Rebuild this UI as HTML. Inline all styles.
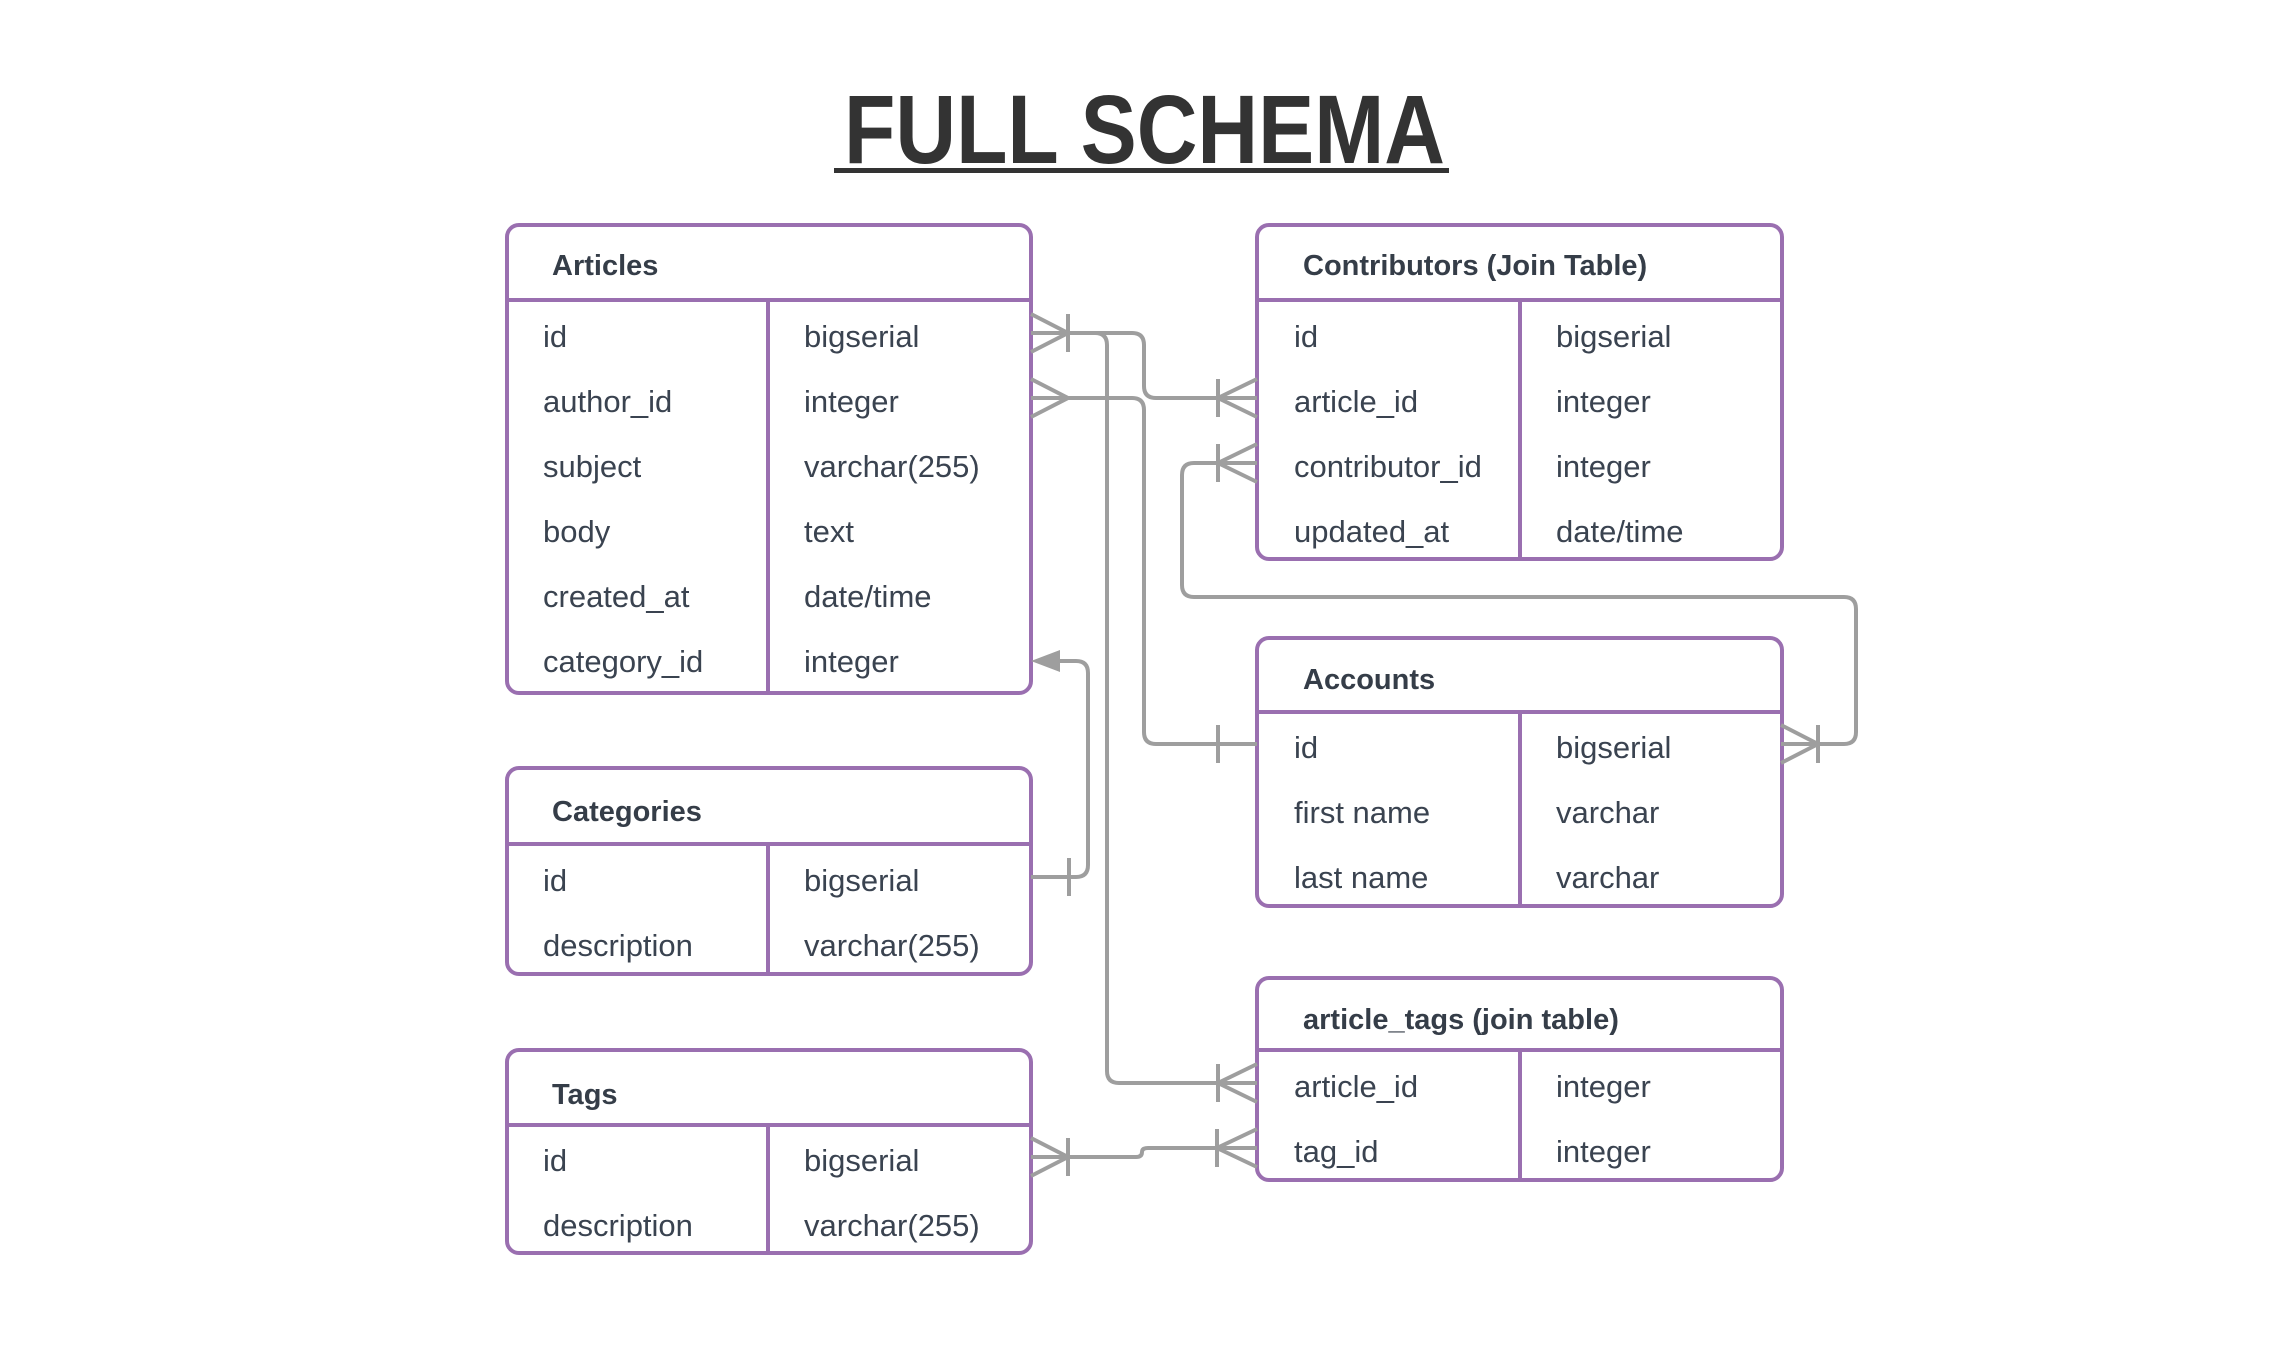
<!DOCTYPE html>
<html><head><meta charset="utf-8"><style>
html,body{margin:0;padding:0;background:#fff;}
svg{display:block;}
.h{font-family:"Liberation Sans",sans-serif;font-weight:bold;font-size:29px;fill:#353d48;}
.t{font-family:"Liberation Sans",sans-serif;font-size:31px;fill:#3a4350;}
.box{fill:none;stroke:#9a6fb0;stroke-width:4;}
.ln{fill:none;stroke:#9e9e9e;stroke-width:4;}
</style></head><body>
<svg width="2280" height="1350" viewBox="0 0 2280 1350" xmlns="http://www.w3.org/2000/svg">
<text x="844" y="163" textLength="601" lengthAdjust="spacingAndGlyphs" style="font-family:'Liberation Sans',sans-serif;font-weight:bold;font-size:97px;fill:#333;">FULL SCHEMA</text>
<rect x="834" y="168" width="615" height="5" fill="#333"/>

<!-- Articles -->
<rect class="box" x="507" y="225" width="524" height="468" rx="12"/>
<line class="box" x1="507" y1="300" x2="1031" y2="300"/>
<line class="box" x1="768" y1="300" x2="768" y2="693"/>
<text class="h" x="552" y="275">Articles</text>
<g class="t">
<text x="543" y="347">id</text><text x="804" y="347">bigserial</text>
<text x="543" y="412">author_id</text><text x="804" y="412">integer</text>
<text x="543" y="477">subject</text><text x="804" y="477">varchar(255)</text>
<text x="543" y="542">body</text><text x="804" y="542">text</text>
<text x="543" y="607">created_at</text><text x="804" y="607">date/time</text>
<text x="543" y="672">category_id</text><text x="804" y="672">integer</text>
</g>

<!-- Categories -->
<rect class="box" x="507" y="768" width="524" height="206" rx="12"/>
<line class="box" x1="507" y1="844" x2="1031" y2="844"/>
<line class="box" x1="768" y1="844" x2="768" y2="974"/>
<text class="h" x="552" y="821">Categories</text>
<g class="t">
<text x="543" y="891">id</text><text x="804" y="891">bigserial</text>
<text x="543" y="956">description</text><text x="804" y="956">varchar(255)</text>
</g>

<!-- Tags -->
<rect class="box" x="507" y="1050" width="524" height="203" rx="12"/>
<line class="box" x1="507" y1="1125" x2="1031" y2="1125"/>
<line class="box" x1="768" y1="1125" x2="768" y2="1253"/>
<text class="h" x="552" y="1104">Tags</text>
<g class="t">
<text x="543" y="1171">id</text><text x="804" y="1171">bigserial</text>
<text x="543" y="1236">description</text><text x="804" y="1236">varchar(255)</text>
</g>

<!-- Contributors -->
<rect class="box" x="1257" y="225" width="525" height="334" rx="12"/>
<line class="box" x1="1257" y1="300" x2="1782" y2="300"/>
<line class="box" x1="1520" y1="300" x2="1520" y2="559"/>
<text class="h" x="1303" y="275">Contributors (Join Table)</text>
<g class="t">
<text x="1294" y="347">id</text><text x="1556" y="347">bigserial</text>
<text x="1294" y="412">article_id</text><text x="1556" y="412">integer</text>
<text x="1294" y="477">contributor_id</text><text x="1556" y="477">integer</text>
<text x="1294" y="542">updated_at</text><text x="1556" y="542">date/time</text>
</g>

<!-- Accounts -->
<rect class="box" x="1257" y="638" width="525" height="268" rx="12"/>
<line class="box" x1="1257" y1="712" x2="1782" y2="712"/>
<line class="box" x1="1520" y1="712" x2="1520" y2="906"/>
<text class="h" x="1303" y="689">Accounts</text>
<g class="t">
<text x="1294" y="758">id</text><text x="1556" y="758">bigserial</text>
<text x="1294" y="823">first name</text><text x="1556" y="823">varchar</text>
<text x="1294" y="888">last name</text><text x="1556" y="888">varchar</text>
</g>

<!-- article_tags -->
<rect class="box" x="1257" y="978" width="525" height="202" rx="12"/>
<line class="box" x1="1257" y1="1050" x2="1782" y2="1050"/>
<line class="box" x1="1520" y1="1050" x2="1520" y2="1180"/>
<text class="h" x="1303" y="1029">article_tags (join table)</text>
<g class="t">
<text x="1294" y="1097">article_id</text><text x="1556" y="1097">integer</text>
<text x="1294" y="1162">tag_id</text><text x="1556" y="1162">integer</text>
</g>

<!-- connectors -->
<g class="ln">
<path d="M1031 333 H1132 Q1144 333 1144 345 V386 Q1144 398 1156 398 H1257"/>
<path d="M1068 333 H1095 Q1107 333 1107 345 V1071 Q1107 1083 1119 1083 H1257"/>
<path d="M1031 398 H1132 Q1144 398 1144 410 V732 Q1144 744 1156 744 H1257"/>
<path d="M1257 463 H1194 Q1182 463 1182 475 V585 Q1182 597 1194 597 H1844 Q1856 597 1856 609 V732 Q1856 744 1844 744 H1781"/>
<path d="M1031 877 H1076 Q1088 877 1088 865 V673 Q1088 661 1076 661 H1055"/>
<path d="M1031 1157 H1136 Q1142 1157 1142 1152 Q1142 1148 1148 1148 H1257"/>

<path d="M1031 314 L1068 333 L1031 352 M1068 314 V352"/>
<path d="M1031 379 L1068 398 L1031 417"/>
<path d="M1257 379 L1218 398 L1257 417 M1218 379 V417"/>
<path d="M1257 444 L1218 463 L1257 482 M1218 444 V482"/>
<path d="M1218 725 V763"/>
<path d="M1781 725 L1818 744 L1781 763 M1818 725 V763"/>
<path d="M1069 858 V896"/>
<path d="M1031 1138 L1068 1157 L1031 1176 M1068 1138 V1176"/>
<path d="M1257 1064 L1218 1083 L1257 1102 M1218 1064 V1102"/>
<path d="M1257 1129 L1217 1148 L1257 1167 M1217 1129 V1167"/>
</g>
<polygon points="1031,661 1060,650 1060,672" fill="#9e9e9e"/>
</svg>
</body></html>
